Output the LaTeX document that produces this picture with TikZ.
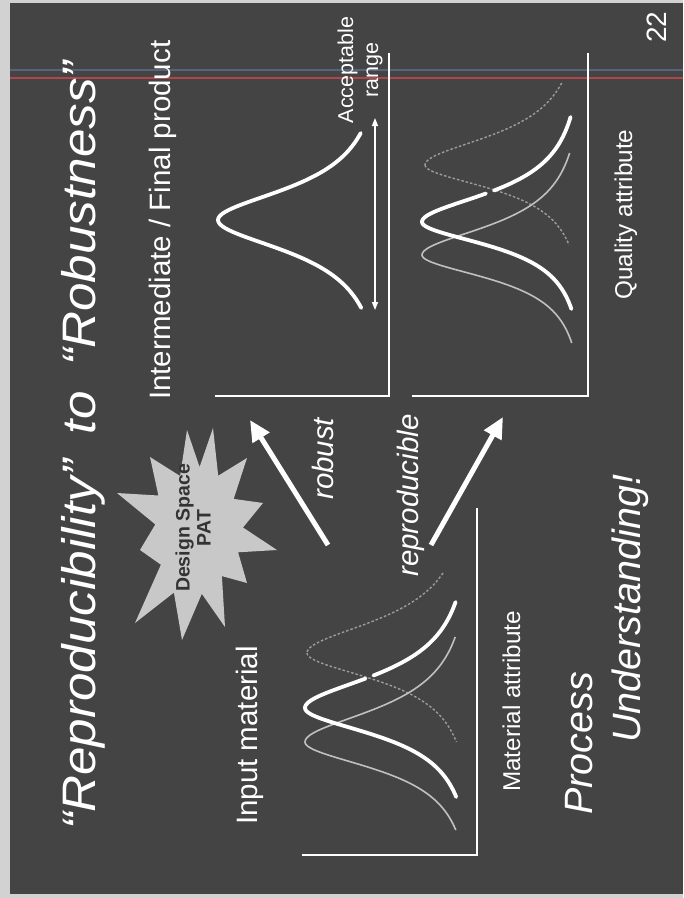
\documentclass[tikz,border=0pt]{standalone}
\usepackage{fontspec}
\setmainfont{Liberation Sans}
\usetikzlibrary{arrows.meta}

\definecolor{slidebg}{HTML}{444444}
\definecolor{scanedge}{HTML}{D2D2D2}
\definecolor{burst}{HTML}{C8C8C8}
\definecolor{burstText}{HTML}{333333}
\definecolor{thinGray}{HTML}{C0C0C0}
\definecolor{dashGray}{HTML}{9C9C9C}
\definecolor{streakRed}{HTML}{B0454C}
\definecolor{streakBlue}{HTML}{56637C}

% one flank of a bell curve (slide lies on its side)
\newcommand{\bellside}[7]{%
  \draw[#1] plot[domain=#6:#7, samples=60, variable=\t]
    ({#2-(#2-#3)/(1+(\t/#5)*(\t/#5))}, {#4+\t});}

\begin{document}
\begin{tikzpicture}[x=1pt, y=-1pt,
    axis/.style={white, line width=2.6pt},
    thickbell/.style={white, line width=3.8pt, line cap=round},
    thinbell/.style={thinGray, line width=1.6pt},
    dashbell/.style={dashGray, line width=1.4pt, dash pattern=on 2.5pt off 2pt},
    bigarrow/.style={-{Triangle[length=21pt, width=19pt]}, white, line width=5pt},
    rangearrow/.style={{Triangle[length=8pt, width=6pt]}-{Triangle[length=8pt, width=6pt]}, white, line width=1.4pt},
    lbl/.style={text=white, rotate=90, anchor=base west, inner sep=0pt}
]
% scanned page
\fill[scanedge] (0,0) rectangle (683,898);
\fill[slidebg] (10,3) rectangle (683,894);
\draw[streakBlue, line width=1.2pt] (10,70) -- (683,70);
\draw[streakRed, line width=1.6pt] (10,78) -- (683,78);

% axes
\draw[axis] (389,53) -- (389,396) -- (215,396);
\draw[axis] (588,53) -- (588,396) -- (412,396);
\draw[axis] (477,508) -- (477,855) -- (302,855);

% input material distributions
\bellside{dashbell}{477}{307}{653}{40}{-80}{0}
\bellside{dashbell}{477}{307}{653}{33}{0}{89}
\bellside{thinbell}{477}{305}{742}{40}{-105}{0}
\bellside{thinbell}{477}{305}{742}{33}{0}{88}
\bellside{thickbell}{477}{305}{708}{40}{-106}{-32.5}
\bellside{thickbell}{477}{305}{708}{40}{-29.5}{0}
\bellside{thickbell}{477}{305}{708}{33}{0}{89}

% robust product
\bellside{thickbell}{389}{218}{220}{38.7}{-87}{0}
\bellside{thickbell}{389}{218}{220}{38.7}{0}{88}

% reproducible product
\bellside{dashbell}{588}{425}{165}{36}{-82}{0}
\bellside{dashbell}{588}{425}{165}{29}{0}{80}
\bellside{thinbell}{588}{422}{255}{36}{-102}{0}
\bellside{thinbell}{588}{422}{255}{29}{0}{88}
\bellside{thickbell}{588}{422}{222}{36}{-105}{-31.5}
\bellside{thickbell}{588}{422}{222}{36}{-28.5}{0}
\bellside{thickbell}{588}{422}{222}{29}{0}{87}

% design space burst
\fill[burst] (187,430) -- (199.6,467) -- (213,428) -- (218.2,475.7) -- (247,458)
  -- (233.7,498.9) -- (263,503) -- (243,527.5) -- (277,550) -- (238.1,552.3)
  -- (247,583) -- (221.9,576.1) -- (225,627) -- (201.8,593.8) -- (182,640)
  -- (173.9,592.6) -- (135,623) -- (160.9,564.7) -- (140,550) -- (155.3,524.4)
  -- (117,493) -- (158.4,495.5) -- (150,457) -- (180.1,476) -- cycle;
\node[text=burstText, rotate=90, align=center, inner sep=0pt,
      font=\bfseries\fontsize{19.5}{21}\selectfont] (dsText) at (193,528) {Design Space\\PAT};

% arrows
\coordinate (robTail) at (328,545);
\coordinate (robTip) at (250,420);
\coordinate (repTail) at (431,545);
\coordinate (repTip) at (503,417);
\coordinate (rangeTop) at (375,118);
\coordinate (rangeBot) at (375,310);
\draw[bigarrow] (robTail) -- (robTip);
\draw[bigarrow] (repTail) -- (repTip);
\draw[rangearrow] (rangeBot) -- (rangeTop);

% texts
\node[lbl, font=\fontsize{47}{50}\selectfont\itshape] (title) at (95,830)
  {\scalebox{1.09}[1]{“Reproducibility”\hskip0.5em to\hskip0.5em “Robustness”}};
\node[lbl, font=\fontsize{29.5}{32}\selectfont] (interm) at (170,400) {Intermediate / Final product};
\node[lbl, font=\fontsize{29.5}{32}\selectfont] (input) at (257,825) {Input material};
\node[text=white, rotate=90, align=center, inner sep=0pt,
      font=\fontsize{21.5}{25}\selectfont] (accept) at (360,70) {Acceptable\\range};
\node[lbl, font=\fontsize{29.5}{32}\selectfont\itshape] (robust) at (333,500) {robust};
\node[lbl, font=\fontsize{29.5}{32}\selectfont\itshape] (repro) at (418,577) {reproducible};
\node[lbl, font=\fontsize{24.3}{27}\selectfont] (matAttr) at (520,792) {Material attribute};
\node[lbl, font=\fontsize{24.3}{27}\selectfont] (qualAttr) at (632,300) {Quality attribute};
\node[lbl, font=\fontsize{39.5}{42}\selectfont\itshape] (process) at (592,815) {Process};
\node[lbl, font=\fontsize{39.5}{42}\selectfont\itshape] (underst) at (640,743) {Understanding!};
\node[lbl, font=\fontsize{28}{30}\selectfont] (pageNo) at (666,43) {22};
\end{tikzpicture}
\end{document}
